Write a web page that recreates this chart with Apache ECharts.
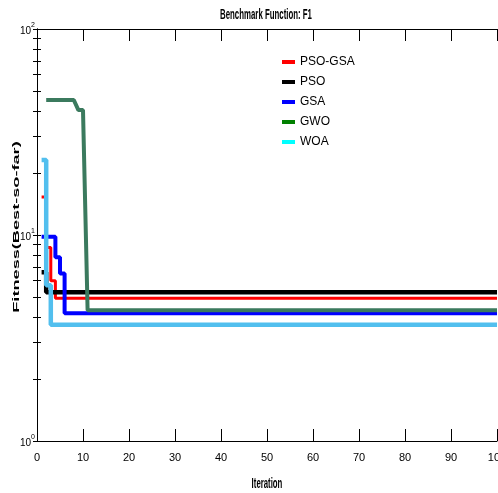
<!DOCTYPE html>
<html><head><meta charset="UTF-8">
<title>Benchmark Function: F1</title>
<script src="https://cdn.jsdelivr.net/npm/echarts@6/dist/echarts.min.js"></script>
<style>
  *{margin:0;padding:0;}
  html,body{width:498px;height:493px;background:#fff;}
  #chart{width:498px;height:493px;}
</style>
</head>
<body>
<div id="chart"></div>
<script>
  // convergence curves, [iteration, best-so-far fitness]
  var psoGsa = [[1,15.3],[2,8.7],[3,6.0],[4,4.93],[100,4.93]];
  var pso    = [[1,6.6],[2,5.28],[100,5.28]];
  var gsa    = [[1,9.8],[2,9.8],[3,9.8],[4,7.8],[5,6.5],[6,4.17],[100,4.17]];
  var gwo    = [[2,45.2],[8,45.2],[9,40.4],[10,40.4],[11,4.31],[100,4.31]];
  var woa    = [[1,23.1],[2,5.7],[3,3.67],[100,3.67]];

  var names  = ['PSO-GSA','PSO','GSA','GWO','WOA'];
  var lineColors   = ['#ff0000','#000000','#0000ff','#3b7a5e','#52bfee'];
  var legendColors = ['#ff0000','#000000','#0000ff','#008000','#00ffff'];
  var widths = [3,4.5,4,4,4.5];
  // GWO is drawn as a plain polyline, the others hold their value until the next iteration
  var steps  = ['end','end','end',false,'end'];
  var curves = [psoGsa,pso,gsa,gwo,woa];

  var yTicks = [1,2,3,4,5,6,7,8,9,10,20,30,40,50,60,70,80,90,100];
  var yLabels = [1,10,100];

  var narrow = '"Liberation Sans Narrow","Liberation Sans",Arial,sans-serif';

  var myChart = echarts.init(document.getElementById('chart'));

  var series = [];
  for (var i = 0; i < names.length; i++) {
    series.push({
      name: names[i],
      type: 'line',
      data: curves[i],
      step: steps[i],
      symbol: 'none',
      showSymbol: false,
      lineStyle: {color: lineColors[i], width: widths[i]},
      itemStyle: {color: lineColors[i]},
      z: 2 + i
    });
  }

  var legendData = names.map(function (n, k) {
    return {name: n, itemStyle: {color: legendColors[k]}};
  });

  myChart.setOption({
    animation: false,
    backgroundColor: '#fff',
    grid: {left: 37, right: 1, top: 29, bottom: 52, containLabel: false, outerBoundsMode: 'none'},
    legend: {
      orient: 'vertical',
      left: 277,
      top: 50,
      icon: 'rect',
      itemWidth: 13,
      itemHeight: 4,
      itemGap: 6,
      data: legendData,
      textStyle: {fontFamily: narrow, fontSize: 12, color: '#000', lineHeight: 14}
    },
    xAxis: [{
      type: 'value', min: 0, max: 100, interval: 10,
      axisLine: {lineStyle: {color: '#000', width: 1}},
      axisTick: {inside: true, length: 12, lineStyle: {color: '#000'}},
      axisLabel: {margin: 11, fontFamily: narrow, fontSize: 11, color: '#000', hideOverlap: false},
      splitLine: {show: false}
    }, {
      type: 'value', min: 0, max: 100, interval: 10, position: 'top',
      axisLine: {lineStyle: {color: '#000', width: 1}},
      axisTick: {inside: true, length: 12, lineStyle: {color: '#000'}},
      axisLabel: {show: false},
      splitLine: {show: false}
    }],
    yAxis: [{
      type: 'log', logBase: 10, min: 1, max: 100,
      axisLine: {show: true, lineStyle: {color: '#000', width: 1}},
      axisTick: {inside: true, length: 4, customValues: yTicks, lineStyle: {color: '#000'}},
      axisLabel: {
        customValues: yLabels,
        margin: 2,
        formatter: function (v) {
          return '{b|10}{s|' + Math.round(Math.log10(v)) + '}';
        },
        rich: {
          b: {fontFamily: narrow, fontSize: 10, color: '#000', lineHeight: 14, verticalAlign: 'bottom'},
          s: {fontFamily: narrow, fontSize: 7, color: '#000', lineHeight: 14, verticalAlign: 'top'}
        }
      },
      splitLine: {show: false}
    }, {
      type: 'log', logBase: 10, min: 1, max: 100, position: 'right',
      axisLine: {show: true, lineStyle: {color: '#000', width: 1}},
      axisTick: {inside: true, length: 4, customValues: yTicks, lineStyle: {color: '#000'}},
      axisLabel: {show: false},
      splitLine: {show: false}
    }],
    graphic: [{
      type: 'text', x: 266, y: 15, scaleX: 0.56,
      style: {text: 'Benchmark Function: F1', font: 'bold 14px ' + narrow, fill: '#000', align: 'center', verticalAlign: 'middle'}
    }, {
      type: 'text', x: 267, y: 484, scaleX: 0.52,
      style: {text: 'Iteration', font: 'bold 15px ' + narrow, fill: '#000', align: 'center', verticalAlign: 'middle'}
    }, {
      type: 'text', x: 17, y: 227, rotation: Math.PI / 2, scaleX: 1.65, scaleY: 0.8,
      style: {text: 'Fitness(Best-so-far)', font: 'bold 11px "Liberation Sans",Arial,sans-serif', fill: '#000', align: 'center', verticalAlign: 'middle'}
    }],
    series: series
  });
</script>
</body></html>
